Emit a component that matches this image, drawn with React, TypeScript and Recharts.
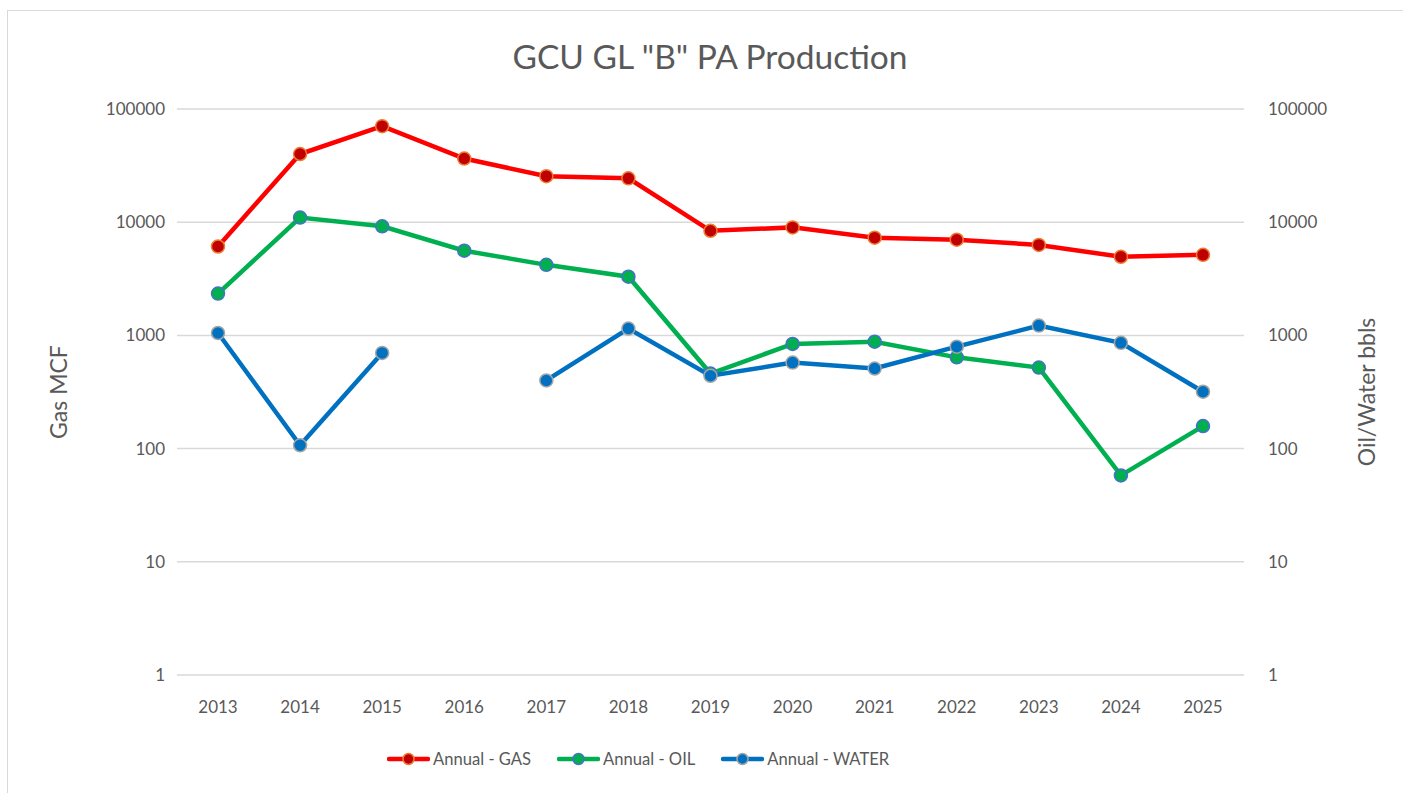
import { CartesianGrid, Line, LineChart, XAxis, YAxis } from 'recharts';

const years = ['2013', '2014', '2015', '2016', '2017', '2018', '2019', '2020', '2021', '2022', '2023', '2024', '2025'];
const gasMcf = [6100, 40000, 70500, 36500, 25500, 24400, 8400, 9000, 7300, 7000, 6300, 4950, 5150];
const oilBbls = [2340, 11000, 9200, 5600, 4200, 3300, 460, 840, 880, 640, 520, 58, 158];
const waterBbls: Array<number | null> = [1050, 107, 700, null, 400, 1150, 440, 575, 510, 795, 1220, 860, 318];
const logTicks = [1, 10, 100, 1000, 10000, 100000];

const data = years.map((year, i) => ({ year, gas: gasMcf[i], oil: oilBbls[i], water: waterBbls[i] }));

const FONT = 'Lato, "Open Sans", sans-serif';
const TEXT = '#595959';
const GRID = '#D9D9D9';
const TICK_SIZE = 17;

const series = [
  { key: 'gas', name: 'Annual - GAS', line: '#FF0000', dot: '#C00000', ring: '#ED7D31', axis: 'left' },
  { key: 'oil', name: 'Annual - OIL', line: '#00B050', dot: '#00B050', ring: '#4472C4', axis: 'right' },
  { key: 'water', name: 'Annual - WATER', line: '#0070C0', dot: '#0070C0', ring: '#A5A5A5', axis: 'right' },
];

function LegendRow() {
  return (
    <div style={{ position: 'absolute', left: 387, top: 749, display: 'flex', gap: 26, fontFamily: FONT, fontSize: 16.6, color: TEXT }}>
      {series.map((s) => (
        <div key={s.key} style={{ display: 'flex', alignItems: 'center', gap: 3 }}>
          <svg width={43} height={14}>
            <line x1={2} y1={7} x2={41} y2={7} stroke={s.line} strokeWidth={4.5} strokeLinecap="round" />
            <circle cx={21.5} cy={7} r={5.5} fill={s.dot} stroke={s.ring} strokeWidth={1.5} />
          </svg>
          <span>{s.name}</span>
        </div>
      ))}
    </div>
  );
}

export default function App() {
  return (
    <div style={{ position: 'fixed', left: 0, top: 0, width: 1403, height: 793, overflow: 'hidden', background: '#fff' }}>
      <div style={{ position: 'absolute', left: 7, top: 10, width: 1420, height: 820, border: `1.5px solid ${GRID}` }} />
      <LineChart width={1403} height={793} data={data} margin={{ top: 109, right: 39, bottom: 78, left: 90 }} style={{ position: 'absolute', left: 0, top: 0 }}>
        <CartesianGrid vertical={false} stroke={GRID} strokeWidth={1.5} yAxisId="left" />
        <XAxis
          dataKey="year"
          axisLine={false}
          tickLine={false}
          tickSize={0}
          tickMargin={26}
          height={40}
          padding={{ left: 41, right: 41 }}
          tick={{ fill: TEXT, fontSize: TICK_SIZE, fontFamily: FONT }}
        />
        <YAxis
          yAxisId="left"
          scale="log"
          domain={[1, 100000]}
          ticks={logTicks}
          allowDataOverflow
          width={87}
          axisLine={false}
          tickLine={false}
          tickSize={0}
          tickMargin={12}
          tick={{ fill: TEXT, fontSize: TICK_SIZE, fontFamily: FONT }}
        />
        <YAxis
          yAxisId="right"
          orientation="right"
          scale="log"
          domain={[1, 100000]}
          ticks={logTicks}
          allowDataOverflow
          width={120}
          axisLine={false}
          tickLine={false}
          tickSize={0}
          tickMargin={24}
          tick={{ fill: TEXT, fontSize: TICK_SIZE, fontFamily: FONT, textAnchor: 'start' }}
        />
        {series.map((s) => (
          <Line
            key={s.key}
            yAxisId={s.axis}
            dataKey={s.key}
            name={s.name}
            type="linear"
            stroke={s.line}
            strokeWidth={4.5}
            dot={{ r: 6.5, fill: s.dot, stroke: s.ring, strokeWidth: 1.5 }}
            activeDot={false}
            isAnimationActive={false}
          />
        ))}
      </LineChart>
      <div style={{ position: 'absolute', left: 0, width: 1420, top: 36, textAlign: 'center', fontFamily: FONT, fontSize: 33.5, color: TEXT }}>
        GCU GL "B" PA Production
      </div>
      <div style={{ position: 'absolute', left: 58, top: 392, transform: 'translate(-50%, -50%) rotate(-90deg)', whiteSpace: 'nowrap', fontFamily: FONT, fontSize: 23, color: TEXT }}>
        Gas MCF
      </div>
      <div style={{ position: 'absolute', left: 1366, top: 392, transform: 'translate(-50%, -50%) rotate(-90deg)', whiteSpace: 'nowrap', fontFamily: FONT, fontSize: 23, color: TEXT }}>
        Oil/Water bbls
      </div>
      <LegendRow />
    </div>
  );
}
